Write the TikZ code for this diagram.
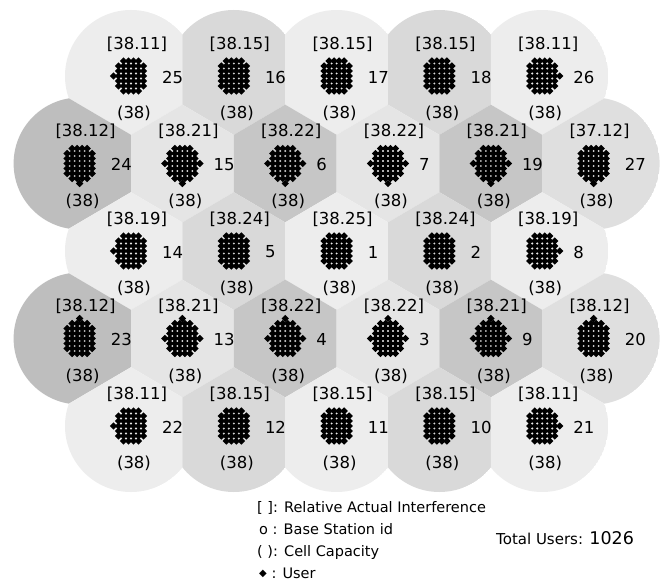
\documentclass[tikz,border=0pt]{standalone}
\usepackage{fontspec}
\setmainfont{DejaVu Sans}
\usetikzlibrary{calc}
\definecolor{cL}{HTML}{EDEDED}
\definecolor{cM}{HTML}{D9D9D9}
\definecolor{cD}{HTML}{BEBEBE}
\definecolor{cE}{HTML}{C6C6C6}
\definecolor{cF}{HTML}{E5E5E5}
\definecolor{cG}{HTML}{DFDFDF}
\newcommand\udot[2]{\fill ({#1},{#2}) +(-3.7,0) -- +(0,-3.7) -- +(3.7,0) -- +(0,3.7) -- cycle;}
\begin{document}
\begin{tikzpicture}[x=1pt,y=-1pt,
  lab/.style={font=\fontsize{16.5}{18}\selectfont, inner sep=0pt},
  leg/.style={font=\fontsize{14.5}{16}\selectfont, inner sep=0pt, anchor=base west}]
\useasboundingbox[fill=white] (0,0) rectangle (667,583);
\def\cells{25/131/76, 16/233.8/76, 17/336.6/76, 18/439.4/76, 26/542.2/76,
 24/79.6/163.5, 15/182.4/163.5, 6/285.2/163.5, 7/388/163.5, 19/490.8/163.5, 27/593.6/163.5,
 14/131/251, 5/233.8/251, 1/336.6/251, 2/439.4/251, 8/542.2/251,
 23/79.6/338.5, 13/182.4/338.5, 4/285.2/338.5, 3/388/338.5, 9/490.8/338.5, 20/593.6/338.5,
 22/131/426, 12/233.8/426, 11/336.6/426, 10/439.4/426, 21/542.2/426}
% cell coverage areas: disc clipped to nearest-station region
\foreach \i/\xi/\yi/\col in {25/131/76/cL, 16/233.8/76/cM, 17/336.6/76/cL, 18/439.4/76/cM, 26/542.2/76/cL,
 24/79.6/163.5/cD, 15/182.4/163.5/cF, 6/285.2/163.5/cE, 7/388/163.5/cF, 19/490.8/163.5/cE, 27/593.6/163.5/cG,
 14/131/251/cL, 5/233.8/251/cM, 1/336.6/251/cL, 2/439.4/251/cM, 8/542.2/251/cL,
 23/79.6/338.5/cD, 13/182.4/338.5/cF, 4/285.2/338.5/cE, 3/388/338.5/cF, 9/490.8/338.5/cE, 20/593.6/338.5/cG,
 22/131/426/cL, 12/233.8/426/cM, 11/336.6/426/cL, 10/439.4/426/cM, 21/542.2/426/cL} {
  \begin{scope}
    \clip (\xi,\yi) circle (66);
    \foreach \j/\xj/\yj in \cells {
      \pgfmathsetmacro\dd{veclen(\xj-\xi,\yj-\yi)}
      \ifdim\dd pt<130pt\relax\ifdim\dd pt>1pt\relax
        \pgfmathsetmacro\mx{(\xi+\xj)/2}
        \pgfmathsetmacro\my{(\yi+\yj)/2}
        \pgfmathsetmacro\ux{(\xj-\xi)/\dd}
        \pgfmathsetmacro\uy{(\yj-\yi)/\dd}
        \clip ({\mx-300*\uy},{\my+300*\ux}) -- ({\mx+300*\uy},{\my-300*\ux}) -- ({\mx-300*\ux},{\my-300*\uy}) -- cycle;
      \fi\fi
    }
    \fill[\col] (\xi,\yi) circle (66);
  \end{scope}
}
% users and labels
\foreach \id/\cx/\cy/\lab/\pl/\pr/\pt/\pb in {
 25/131/76/38.11/1/0/0/0, 16/233.8/76/38.15/0/0/0/0, 17/336.6/76/38.15/0/0/0/0, 18/439.4/76/38.15/0/0/0/0, 26/542.2/76/38.11/0/1/0/0,
 24/79.6/163.5/38.12/0/0/0/1, 15/182.4/163.5/38.21/1/1/0/1, 6/285.2/163.5/38.22/1/1/0/1, 7/388/163.5/38.22/1/1/0/1, 19/490.8/163.5/38.21/1/1/0/1, 27/593.6/163.5/37.12/0/0/0/1,
 14/131/251/38.19/1/0/0/0, 5/233.8/251/38.24/0/0/0/0, 1/336.6/251/38.25/0/0/0/0, 2/439.4/251/38.24/0/0/0/0, 8/542.2/251/38.19/0/1/0/0,
 23/79.6/338.5/38.12/0/0/1/0, 13/182.4/338.5/38.21/1/1/1/0, 4/285.2/338.5/38.22/1/1/1/0, 3/388/338.5/38.22/1/1/1/0, 9/490.8/338.5/38.21/1/1/1/0, 20/593.6/338.5/38.12/0/0/1/0,
 22/131/426/38.11/1/0/0/0, 12/233.8/426/38.15/0/0/0/0, 11/336.6/426/38.15/0/0/0/0, 10/439.4/426/38.15/0/0/0/0, 21/542.2/426/38.11/0/1/0/0} {
  \foreach \a in {0,...,5} {
    \foreach \b in {0,...,6} {
      \pgfmathtruncatemacro\corner{((\a==0)||(\a==5))&&((\b==0)||(\b==6))}
      \ifnum\corner=0 \udot{\cx+(\a-2.5)*5}{\cy+(\b-3)*5}\fi
    }
  }
  \ifnum\pl=1 \udot{\cx-17.5}{\cy}\fi
  \ifnum\pr=1 \udot{\cx+17.5}{\cy}\fi
  \ifnum\pt=1 \udot{\cx}{\cy-20}\fi
  \ifnum\pb=1 \udot{\cx}{\cy+20}\fi
  \node[lab, anchor=west] (id\id) at ({\cx+31},{\cy+1}) {\id};
  \node[lab] (ri\id) at ({\cx+6},{\cy-32}) {[\lab]};
  \node[lab] (cap\id) at ({\cx+3},{\cy+37.5}) {(38)};
}
% legend
\node[leg] (l1) at (257,512) {[ ]: Relative Actual Interference};
\node[leg] (l2) at (259,534) {o : Base Station id};
\node[leg] (l3) at (257,556) {( ): Cell Capacity};
\node[leg] (l4) at (259,578) {\raisebox{1.5pt}{\fontsize{10}{10}\selectfont ◆} : User};
\node[leg, font=\fontsize{15}{17}\selectfont] (tot) at (496,544) {Total Users: {\fontsize{17.5}{19}\selectfont 1026}};
\end{tikzpicture}
\end{document}
